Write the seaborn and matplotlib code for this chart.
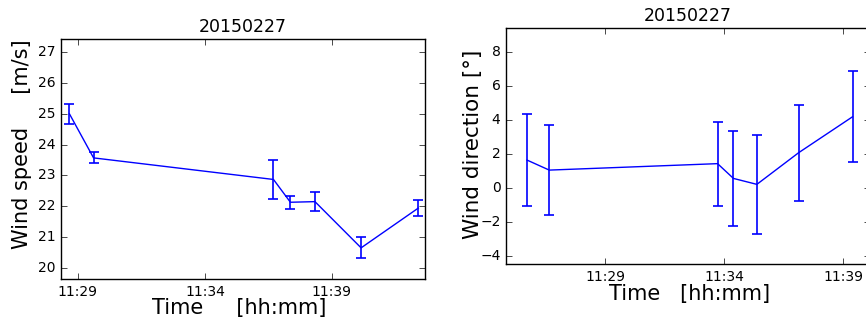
import pandas as pd
import matplotlib
matplotlib.use("Agg")
import matplotlib.pyplot as plt
import matplotlib.dates as mdates
import seaborn as sns

plt.style.use("classic")
plt.rcParams["figure.facecolor"] = "white"
plt.rcParams["savefig.facecolor"] = "white"
plt.rcParams["font.family"] = ["DejaVu Sans"]

# wind speed panel
speed_time = ["11:28:40", "11:29:37", "11:36:42", "11:37:22", "11:38:20", "11:40:09", "11:42:24"]
speed = [25.0, 23.57, 22.87, 22.13, 22.15, 20.65, 21.94]
speed_err = [0.33, 0.18, 0.62, 0.21, 0.30, 0.34, 0.26]

# wind direction panel
dir_time = ["11:25:43", "11:26:39", "11:33:43", "11:34:23", "11:35:22", "11:37:07", "11:39:23"]
direction = [1.65, 1.06, 1.44, 0.57, 0.22, 2.08, 4.20]
dir_err = [2.69, 2.63, 2.48, 2.80, 2.91, 2.83, 2.67]

day = "2015-02-27 "
df1 = pd.DataFrame({"t": pd.to_datetime([day + t for t in speed_time]), "v": speed, "e": speed_err})
df2 = pd.DataFrame({"t": pd.to_datetime([day + t for t in dir_time]), "v": direction, "e": dir_err})

fig = plt.figure(figsize=(8.66, 3.21), dpi=100)
ax1 = fig.add_axes([0.0704, 0.130, 0.4204, 0.7476])
ax2 = fig.add_axes([0.5843, 0.1776, 0.4203, 0.7352])

tick_times = pd.to_datetime([day + "11:29", day + "11:34", day + "11:39"])

for ax, d in [(ax1, df1), (ax2, df2)]:
    sns.lineplot(data=d, x="t", y="v", color="b", lw=1.0, ax=ax, legend=False)
    ax.errorbar(d["t"], d["v"], yerr=d["e"], fmt="none", ecolor="b", elinewidth=1.2, capsize=3.5, capthick=1.2)
    ax.set_xticks(tick_times)
    ax.xaxis.set_major_formatter(mdates.DateFormatter("%H:%M"))
    ax.tick_params(labelsize=10)
    ax.set_title("20150227", fontsize=12.5)

ax1.set_xlim(pd.Timestamp(day + "11:28:20"), pd.Timestamp(day + "11:42:40"))
ax1.set_ylim(19.63, 27.42)
ax1.set_yticks(range(20, 28))
ax1.set_xlabel("Time     [hh:mm]", fontsize=15)
ax1.xaxis.set_label_coords(0.49, -0.079)
ax1.set_ylabel("Wind speed     [m/s]", fontsize=15)
ax1.yaxis.set_label_coords(-0.080, 0.564)

ax2.set_xlim(pd.Timestamp(day + "11:24:50"), pd.Timestamp(day + "11:40:07"))
ax2.set_ylim(-4.47, 9.43)
ax2.set_yticks(range(-4, 10, 2))
ax2.set_xlabel("Time   [hh:mm]", fontsize=15)
ax2.xaxis.set_label_coords(0.505, -0.085)
ax2.set_ylabel("Wind direction [°]", fontsize=15.5)
ax2.yaxis.set_label_coords(-0.064, 0.508)

fig.savefig("out.png", dpi=100)
